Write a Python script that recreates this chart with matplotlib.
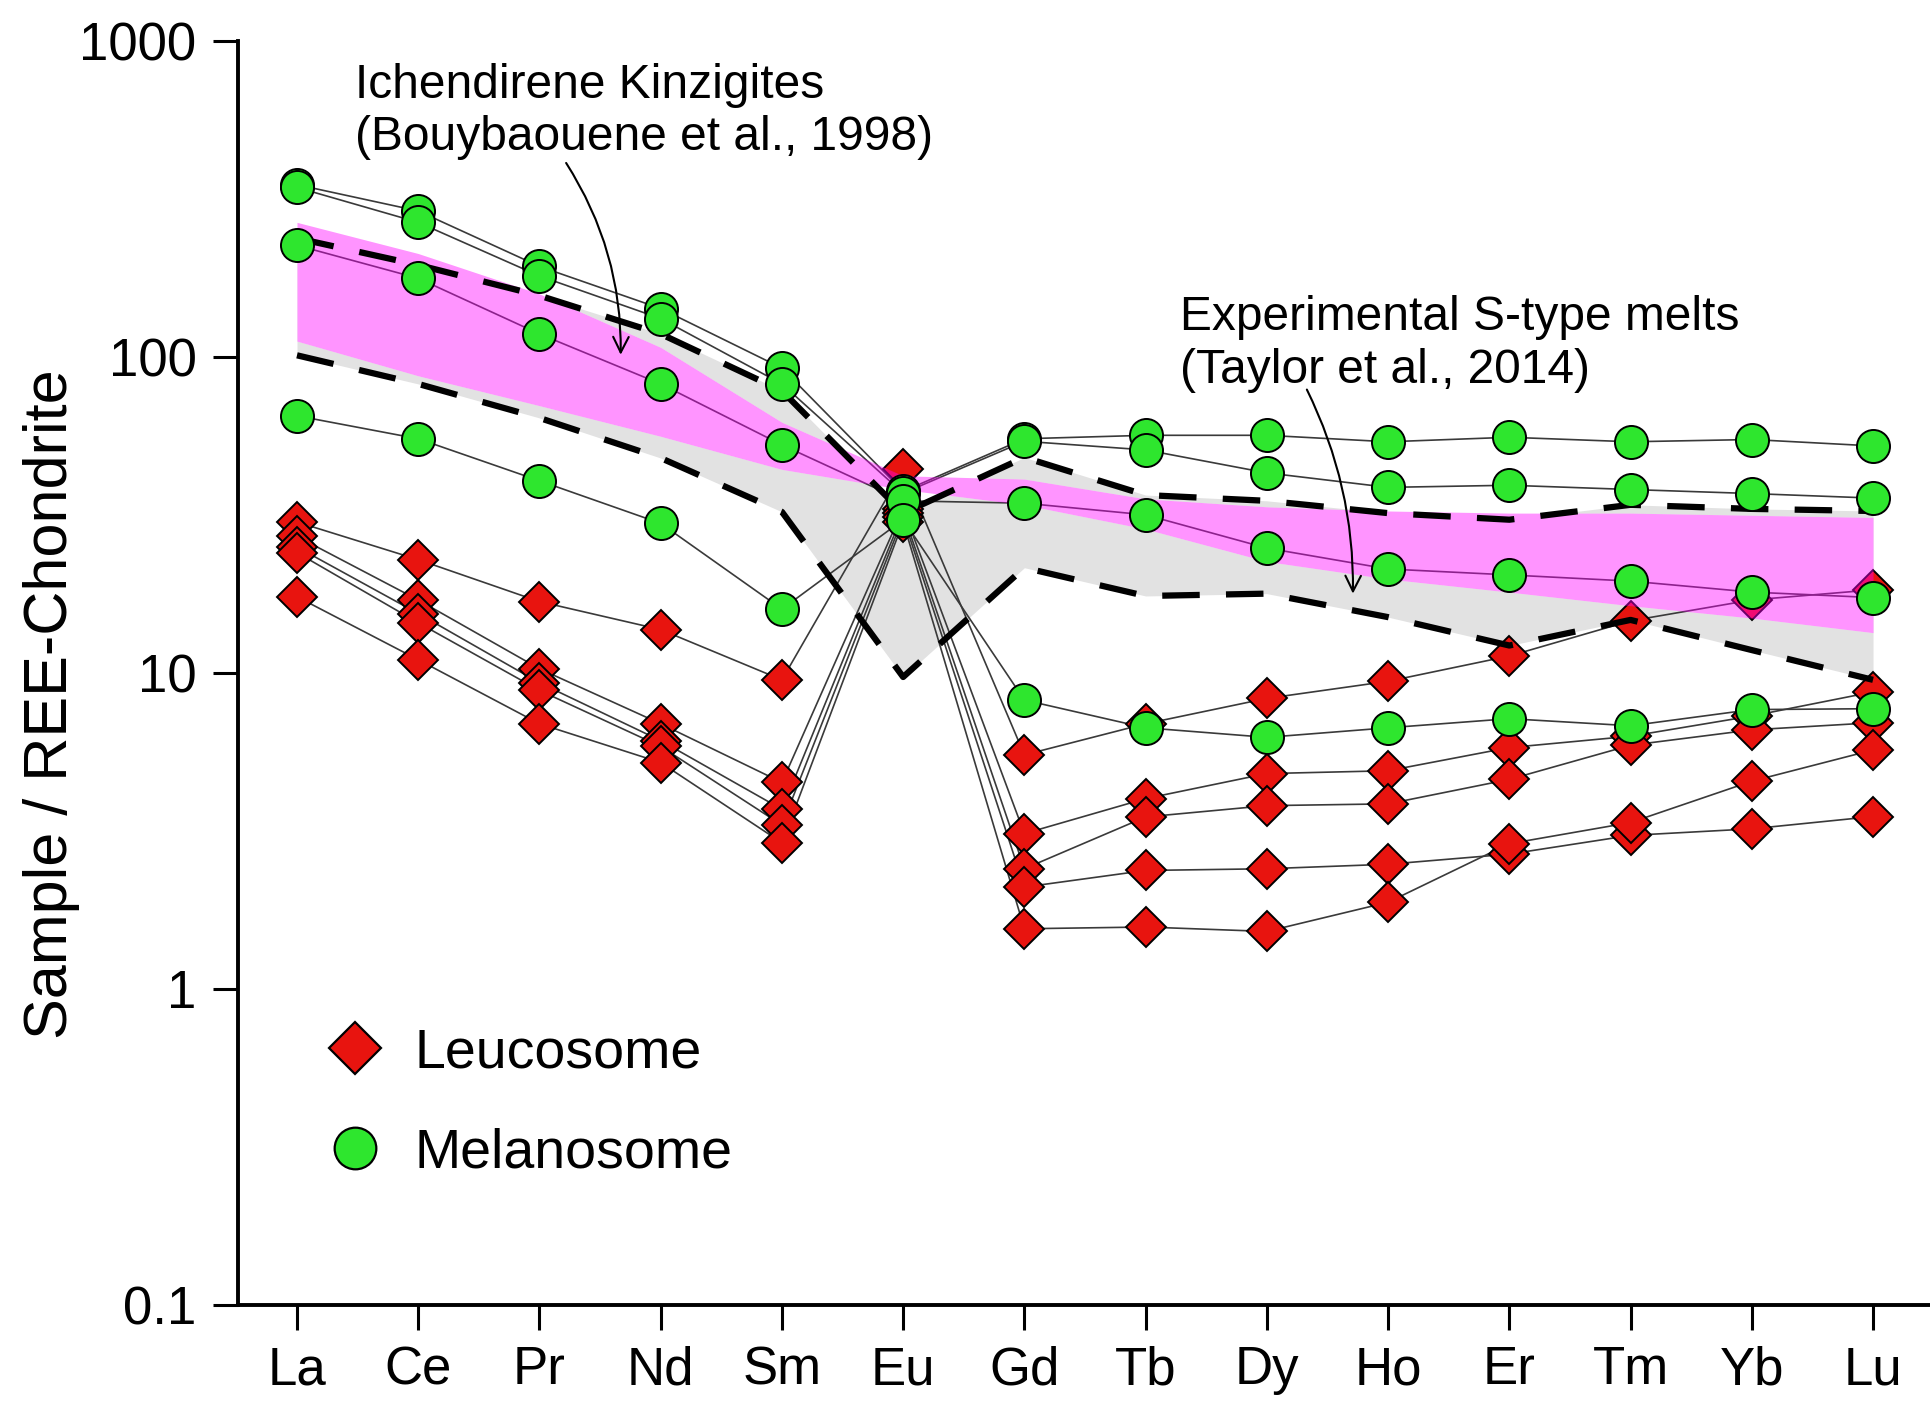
import matplotlib
matplotlib.use('Agg')
import matplotlib.pyplot as plt
from matplotlib.lines import Line2D
import numpy as np

plt.rcParams['font.family'] = ['Liberation Sans', 'DejaVu Sans']

ree = ['La', 'Ce', 'Pr', 'Nd', 'Sm', 'Eu', 'Gd', 'Tb', 'Dy', 'Ho', 'Er', 'Tm', 'Yb', 'Lu']

# leucosome samples / chondrite
leuco_1 = [30, 22.8, 16.8, 13.7, 9.5, 44, 5.5, 6.9, 8.3, 9.4, 11.3, 14.6, 17.0, 18.3]
leuco_2 = [27, 17.0, 10.3, 6.9, 4.5, 33, 3.1, 4.0, 4.8, 4.9, 5.8, 6.3, 7.3, 8.7]
leuco_3 = [25, 15.4, 9.3, 6.1, 3.7, 32, 2.4, 3.5, 3.8, 3.85, 4.6, 5.9, 6.6, 6.95]
leuco_4 = [24, 14.4, 8.8, 5.85, 3.3, 31, 2.1, 2.37, 2.4, 2.48, 2.67, 3.06, 3.21, 3.51]
leuco_5 = [17.4, 11.0, 6.9, 5.2, 2.9, 30, 1.55, 1.57, 1.52, 1.88, 2.88, 3.36, 4.54, 5.7]

# melanosome samples / chondrite
mela_1 = [350, 289, 193, 142, 92, 37.5, 55, 56.4, 56.4, 53.8, 55.6, 53.8, 54.7, 52.2]
mela_2 = [343, 266, 180, 132, 82, 37, 54, 50.7, 42.9, 38.6, 39.2, 38, 36.9, 35.7]
mela_3 = [225, 177, 118, 82, 52.6, 35, 34.4, 31.6, 24.8, 21.3, 20.4, 19.5, 18, 17.3]
mela_4 = [65, 55, 40.5, 29.7, 15.9, 30.5, 8.2, 6.7, 6.25, 6.7, 7.16, 6.8, 7.65, 7.7]

# Ichendirene kinzigites field (pink)
kinz_hi = [266, 212, 158, 107, 62, 42, 41, 35.5, 33.5, 32.5, 32, 32, 31.5, 31]
kinz_lo = [112, 87, 70, 56, 44, 38, 34, 28.5, 22.5, 19.8, 18, 16.3, 14.9, 13.4]

# experimental S-type melts (grey field, dashed limits)
melt_hi = [237, 195, 156, 118, 78, 32, 48, 36.5, 35, 32, 30.5, 34, 33, 32.5]
melt_lo = [101, 82, 64, 47.8, 32.3, 9.7, 21.5, 17.5, 17.8, 15.0, 12.2, 14.7, 11.8, 9.5]

leuco = [leuco_1, leuco_2, leuco_3, leuco_4, leuco_5]
mela = [mela_1, mela_2, mela_3, mela_4]

red = '#e8140f'
green = '#2ee62e'
x = np.arange(len(ree))

fig = plt.figure(figsize=(19.3, 14.03), dpi=100)
ax = fig.add_axes([0.1231, 0.0698, 0.8769, 0.9013])

ax.fill_between(x, melt_lo, melt_hi, color='#e2e2e2', lw=0, zorder=1)
ax.fill_between(x, kinz_lo, kinz_hi, color='white', lw=0, zorder=1.5)

for s in leuco + mela:
    ax.plot(x, s, color='#3a3a3a', lw=1.2, zorder=2)

for s in leuco:
    ax.plot(x, s, ls='none', marker='D', ms=20.4, mfc=red, mec='k', mew=1.4, zorder=2.5)

ax.fill_between(x, kinz_lo, kinz_hi, color='#ff00ff', alpha=0.42, lw=0, zorder=3)

for s in [melt_hi, melt_lo]:
    ax.plot(x, s, color='k', lw=4.5, dashes=(6, 4.2), zorder=4)

for s in mela:
    ax.plot(x, s, ls='none', marker='o', ms=23.8, mfc=green, mec='k', mew=1.4, zorder=6)

ax.set_yscale('log')
ax.set_ylim(0.1, 1000)
ax.set_xlim(-0.49, 13.47)
ax.set_yticks([0.1, 1, 10, 100, 1000])
ax.set_yticklabels(['0.1', '1', '10', '100', '1000'])
ax.yaxis.set_minor_locator(matplotlib.ticker.NullLocator())
ax.set_xticks(x)
ax.set_xticklabels(ree)

for side in ['top', 'right']:
    ax.spines[side].set_visible(False)
for side in ['left', 'bottom']:
    ax.spines[side].set_linewidth(2.8)
ax.tick_params(axis='both', direction='out', length=18, width=2.2, labelsize=38)
ax.tick_params(axis='x', pad=11)
ax.tick_params(axis='y', pad=11.5)

ax.set_ylabel('Sample / REE-Chondrite', fontsize=44)
ax.yaxis.set_label_coords(-0.110, 0.475)
ax.yaxis.label.set_verticalalignment('center')

# field labels
ax.text(0.479, 723, 'Ichendirene Kinzigites', fontsize=34.5, va='center', ha='left')
ax.text(0.479, 492, '(Bouybaouene et al., 1998)', fontsize=34.5, va='center', ha='left')
ax.text(7.28, 133, 'Experimental S-type melts', fontsize=34.5, va='center', ha='left')
ax.text(7.28, 90.4, '(Taylor et al., 2014)', fontsize=34.5, va='center', ha='left')

ax.annotate('', xy=(2.67, 101.4), xytext=(2.22, 410),
            arrowprops=dict(arrowstyle='->', color='k', lw=1.5, mutation_scale=28,
                            connectionstyle='arc3,rad=-0.15', shrinkA=0, shrinkB=0),
            zorder=7)
ax.annotate('', xy=(8.71, 17.8), xytext=(8.33, 78.7),
            arrowprops=dict(arrowstyle='->', color='k', lw=1.5, mutation_scale=28,
                            connectionstyle='arc3,rad=-0.12', shrinkA=0, shrinkB=0),
            zorder=7)

handles = [Line2D([], [], ls='none', marker='D', ms=26.5, mfc=red, mec='k', mew=1.6),
           Line2D([], [], ls='none', marker='o', ms=30, mfc=green, mec='k', mew=1.6)]
ax.legend(handles, ['Leucosome', 'Melanosome'], loc='upper left',
          bbox_to_anchor=(0.0529, 0.2194), frameon=False, fontsize=40,
          handlelength=1.0, handletextpad=0.58, labelspacing=0.865,
          borderpad=0, borderaxespad=0)

fig.savefig('out.png', dpi=100)
